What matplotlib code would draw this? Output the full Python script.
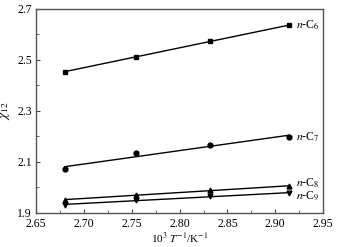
import numpy as np
import matplotlib
matplotlib.use("Agg")
import matplotlib.pyplot as plt
from matplotlib.ticker import MultipleLocator, FormatStrFormatter

plt.rcParams['font.family'] = ['Liberation Serif', 'DejaVu Serif']
plt.rcParams['mathtext.fontset'] = 'stix'

# 10^3 / T values
x = [2.680, 2.754, 2.832, 2.914]
c6 = [2.453, 2.512, 2.574, 2.635]
c7 = [2.071, 2.133, 2.165, 2.198]
c8 = [1.952, 1.969, 1.988, 2.006]
c9 = [1.932, 1.949, 1.965, 1.978]
names = ['6', '7', '8', '9']
markers = ['s', 'o', '^', 'v']

fig = plt.figure(figsize=(3.46, 2.47), dpi=100)
ax = fig.add_axes([0.104, 0.138, 0.830, 0.826])

xs = np.array(x)
for ys, nm, mk in zip([c6, c7, c8, c9], names, markers):
    ax.plot(xs, ys, marker=mk, ls='', color='black', ms=3.5)
    k, b = np.polyfit(xs, ys, 1)
    ax.plot([xs[0], xs[-1]], [k*xs[0]+b, k*xs[-1]+b], color='black', lw=1)
    dy = 0
    if nm == '8':
        dy = 2
    if nm == '9':
        dy = -2
    ax.annotate(r'$\it{n}$-C$_{' + nm + '}$', (xs[-1], ys[-1]), xytext=(5, dy),
                textcoords='offset points', va='center', ha='left', fontsize=8.5)

ax.set_xlim(2.65, 2.95)
ax.set_ylim(1.9, 2.7)
ax.set_xticks([2.65, 2.70, 2.75, 2.80, 2.85, 2.90, 2.95])
ax.xaxis.set_minor_locator(MultipleLocator(0.025))
ax.xaxis.set_major_formatter(FormatStrFormatter('%.2f'))
ax.set_yticks([1.9, 2.1, 2.3, 2.5, 2.7])
ax.yaxis.set_minor_locator(MultipleLocator(0.1))
ax.tick_params(which='both', direction='in', labelsize=8.5, color='#444444')
ax.tick_params(axis='x', pad=4)
ax.tick_params(axis='y', pad=3)
ax.tick_params(which='major', length=3)
ax.tick_params(which='minor', length=2)
for s in ax.spines.values():
    s.set_color('#555555')
    s.set_linewidth(1)

ax.set_xlabel(r'10$^3$ $\it{T}^{-1}$/K$^{-1}$', fontsize=8, labelpad=0)
ax.set_ylabel(r'$\chi$$_{12}$', fontsize=9.5, labelpad=4)

fig.savefig('out.png', dpi=100)
